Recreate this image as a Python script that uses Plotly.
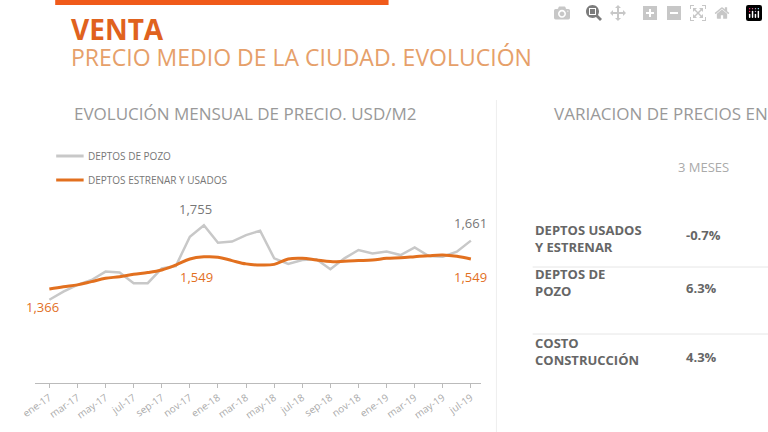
import plotly.graph_objects as go

# monthly data ene-17 .. jul-19
months = ["ene-17", "feb-17", "mar-17", "abr-17", "may-17", "jun-17", "jul-17", "ago-17",
          "sep-17", "oct-17", "nov-17", "dic-17", "ene-18", "feb-18", "mar-18", "abr-18",
          "may-18", "jun-18", "jul-18", "ago-18", "sep-18", "oct-18", "nov-18", "dic-18",
          "ene-19", "feb-19", "mar-19", "abr-19", "may-19", "jun-19", "jul-19"]
pozo = [1300, 1350, 1391, 1421, 1472, 1466, 1401, 1401, 1492, 1506, 1685, 1755, 1648, 1655,
        1695, 1722, 1553, 1519, 1543, 1547, 1486, 1553, 1604, 1583, 1594, 1573, 1620, 1567,
        1563, 1594, 1661]
estrenar = [1366, 1380, 1391, 1411, 1431, 1441, 1456, 1466, 1482, 1512, 1549, 1562, 1560, 1539,
            1519, 1512, 1516, 1549, 1553, 1543, 1533, 1535, 1539, 1543, 1553, 1557, 1563, 1569,
            1573, 1565, 1549]
tick_labels = months[::2]

row_labels = ["DEPTOS USADOS<br>Y ESTRENAR", "DEPTOS DE<br>POZO", "COSTO<br>CONSTRUCCIÓN"]
row_values = ["-0.7%", "6.3%", "4.3%"]

ORANGE = "#e2701f"
GRAY = "#c8c8c8"
FONT = "Open Sans"

fig = go.Figure()
fig.add_trace(go.Scatter(x=months, y=pozo, mode="lines", line=dict(color=GRAY, width=2.5),
                         name="DEPTOS DE POZO"))
fig.add_trace(go.Scatter(x=months, y=estrenar, mode="lines",
                         line=dict(color=ORANGE, width=3, shape="spline"),
                         name="DEPTOS ESTRENAR Y USADOS"))

# point labels
fig.add_annotation(x=months[11], y=pozo[11], text=f"{pozo[11]:,}", showarrow=False, yshift=16,
                   xshift=-8, font=dict(color="#777", size=13, family=FONT))
fig.add_annotation(x=months[-1], y=pozo[-1], text=f"{pozo[-1]:,}", showarrow=False, yshift=18,
                   font=dict(color="#777", size=13, family=FONT))
for i, shift in [(0, -7), (10, 7), (30, 0)]:
    fig.add_annotation(x=months[i], y=estrenar[i], text=f"{estrenar[i]:,}", showarrow=False,
                       yshift=-18, xshift=shift, font=dict(color=ORANGE, size=13, family=FONT))

fig.update_xaxes(domain=[20 / 768, 475 / 768], range=[-1.05, 30.7], tickvals=tick_labels,
                 tickangle=-35, tickfont=dict(color="#aaa", size=10, family=FONT),
                 showline=True, linecolor="#bbb", ticks="outside", tickcolor="#bbb",
                 ticklen=4, showgrid=False)
fig.update_yaxes(domain=[1 - 383 / 432, 1 - 200 / 432], range=[792, 1909], visible=False)

# header
fig.add_shape(type="rect", xref="paper", yref="paper", x0=41 / 768, x1=381 / 768,
              y0=1 - 5 / 432, y1=1, fillcolor="#f05a1a", line_width=0)
fig.add_shape(type="line", xref="paper", yref="paper", x0=491 / 768, x1=491 / 768,
              y0=0, y1=1 - 100 / 432, line=dict(color="#eee", width=1))
texts = [
    ("<b>VENTA</b>", 55, 29, 28, "#e0621e"),
    ("PRECIO MEDIO DE LA CIUDAD. EVOLUCIÓN", 55, 57, 23, "#e6a06a"),
    ("EVOLUCIÓN MENSUAL DE PRECIO. USD/M2", 58, 113, 17, "#999"),
    ("VARIACION DE PRECIOS EN", 548, 113, 17, "#999"),
    ("3 MESES", 674, 167, 13, "#aaa"),
    ("DEPTOS DE POZO", 72, 156, 10, "#777"),
    ("DEPTOS ESTRENAR Y USADOS", 72, 180, 10, "#777"),
]
for t, x, y, s, c in texts:
    fig.add_annotation(text=t, x=x / 768, y=1 - y / 432, xref="paper", yref="paper",
                       xanchor="left", yanchor="middle", showarrow=False,
                       font=dict(size=s, color=c, family=FONT))
for c, y in [(GRAY, 156), (ORANGE, 180)]:
    fig.add_shape(type="line", xref="paper", yref="paper", x0=42 / 768, x1=70 / 768,
                  y0=1 - y / 432, y1=1 - y / 432, line=dict(color=c, width=3))

# table
for i, (lab, val) in enumerate(zip(row_labels, row_values)):
    y = [238, 302, 371][i]
    fig.add_annotation(text=f"<b>{lab}</b>", x=528 / 768, y=1 - y / 432, xref="paper",
                       yref="paper", xanchor="left", align="left", showarrow=False,
                       font=dict(size=13, color="#666", family=FONT))
    fig.add_annotation(text=f"<b>{val}</b>", x=682 / 768, y=1 - (y - 3) / 432, xref="paper",
                       yref="paper", xanchor="left", showarrow=False,
                       font=dict(size=13, color="#666", family=FONT))
for y in [267, 334]:
    fig.add_shape(type="line", xref="paper", yref="paper", x0=528 / 768, x1=1.05,
                  y0=1 - y / 432, y1=1 - y / 432, line=dict(color="#e6e6e6", width=1))

fig.update_layout(width=768, height=432, margin=dict(l=0, r=0, t=0, b=0),
                  paper_bgcolor="white", plot_bgcolor="white", showlegend=False)
fig.write_html("out.html", post_script="document.body.style.margin='0';")
